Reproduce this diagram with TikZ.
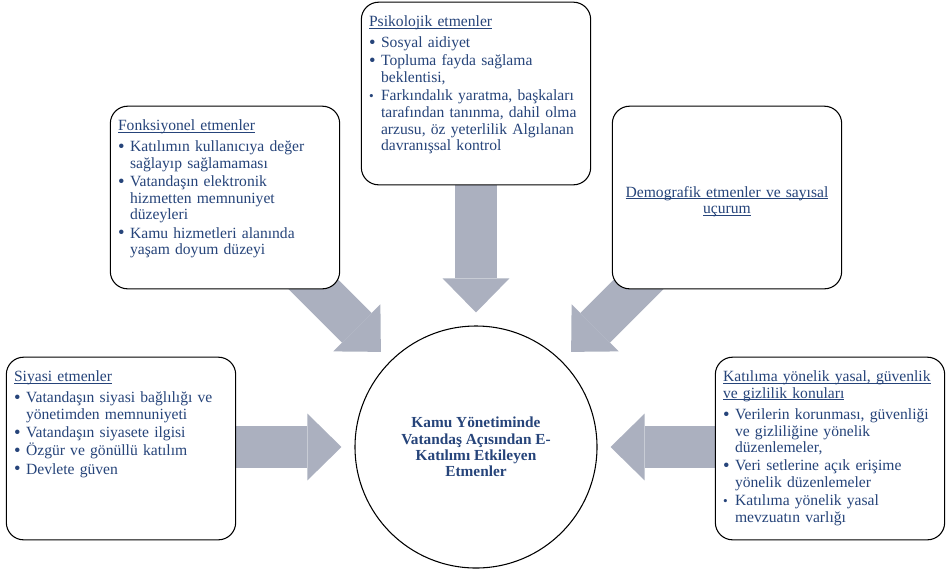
\documentclass[tikz,border=0pt]{standalone}
\usepackage{fontspec}
\setmainfont{Liberation Serif}
\usetikzlibrary{positioning,arrows.meta,calc,backgrounds}
\definecolor{factorblue}{RGB}{38,68,122}
\definecolor{arrowgray}{RGB}{171,176,191}
\newcommand\bigbul{\raisebox{-0.6pt}{\fontsize{14}{14}\selectfont\textbullet}}
\newcommand\smallbul{\raisebox{0.3pt}{\fontsize{10}{10}\selectfont\textbullet}}
\newcommand\fitem[2][\bigbul]{\par\vspace{1.2pt}\hangindent=9pt\hangafter=1\noindent\makebox[9pt][l]{#1}#2\par}
\newcommand\ulined[1]{\leavevmode\setbox0\hbox{#1}\rlap{\rule[-1.3pt]{\wd0}{0.5pt}}\box0}
\begin{document}
\begin{tikzpicture}[x=0.75pt,y=-0.75pt,
	factorbox/.style={draw,line width=0.8pt,fill=white,rounded corners=13pt,minimum width=172pt,minimum height=137pt},
	factortext/.style={inner sep=0pt,text width=165pt,align=left,text=factorblue,font=\fontsize{11.7}{12.5}\selectfont},
	hubcircle/.style={draw,circle,line width=0.8pt,fill=white,minimum size=181.5pt,inner sep=0pt,align=center,text=factorblue,font=\bfseries\fontsize{11.5}{12.2}\selectfont},
	blockarrow/.style={draw=arrowgray,line width=31.5pt,-{Triangle[length=25.5pt,width=50pt,line width=0pt]},shorten >=9.75pt}]
	\useasboundingbox (0,0) rectangle (949,569);
	%\draw [help lines] (0,0) grid (949,569);
	\node[hubcircle] (hub) at (476,447) {Kamu Yönetiminde\\Vatandaş Açısından E-\\Katılımı Etkileyen\\Etmenler};
	\node[factorbox] (psiko) at (476,93.5) {};
	\node[factorbox] (fonk) at (225,197.5) {};
	\node[factorbox] (demo) at (727,197.5) {};
	\node[factorbox] (siyasi) at (121,448.5) {};
	\node[factorbox] (katilim) at (830,448.5) {};
	% gray block arrows behind the boxes
	\begin{scope}[on background layer]
		\draw[blockarrow] (psiko.south) -- (hub.north);
		\draw[blockarrow] ($(hub.center)!2.2!(hub.135)$) -- (hub.135);
		\draw[blockarrow] ($(hub.center)!2.2!(hub.45)$) -- (hub.45);
		\draw[blockarrow] (siyasi.east |- hub.west) -- (hub.west);
		\draw[blockarrow] (katilim.west |- hub.east) -- (hub.east);
	\end{scope}
	\node[factortext,below right=10.5pt and 6pt of psiko.north west] (psikoText) {\ulined{Psikolojik etmenler}\par\vspace{2pt}
		\fitem{Sosyal aidiyet}
		\fitem{Topluma fayda sağlama\newline beklentisi,}
		\fitem[\smallbul]{Farkındalık yaratma, başkaları\newline tarafından tanınma, dahil olma\newline arzusu, öz yeterlilik Algılanan\newline davranışsal kontrol}};
	\node[factortext,below right=10.5pt and 6pt of fonk.north west] (fonkText) {\ulined{Fonksiyonel etmenler}\par\vspace{2pt}
		\fitem{Katılımın kullanıcıya değer\newline sağlayıp sağlamaması}
		\fitem{Vatandaşın elektronik\newline hizmetten memnuniyet\newline düzeyleri}
		\fitem{Kamu hizmetleri alanında\newline yaşam doyum düzeyi}};
	\node[factortext,align=center,text width=168pt] (demoText) at ($(demo.center)+(0,4)$) {\ulined{Demografik etmenler ve sayısal}\\\ulined{uçurum}};
	\node[factortext,below right=10.5pt and 6pt of siyasi.north west] (siyasiText) {\ulined{Siyasi etmenler}\par\vspace{2pt}
		\fitem{Vatandaşın siyasi bağlılığı ve\newline yönetimden memnuniyeti}
		\fitem{Vatandaşın siyasete ilgisi}
		\fitem{Özgür ve gönüllü katılım}
		\fitem{Devlete güven}};
	\node[factortext,below right=10.5pt and 6pt of katilim.north west] (katilimText) {\ulined{Katılıma yönelik yasal, güvenlik}\\\ulined{ve gizlilik konuları}\par\vspace{2pt}
		\fitem{Verilerin korunması, güvenliği\newline ve gizliliğine yönelik\newline düzenlemeler,}
		\fitem{Veri setlerine açık erişime\newline yönelik düzenlemeler}
		\fitem[\smallbul]{Katılıma yönelik yasal\newline mevzuatın varlığı}};
\end{tikzpicture}
\end{document}
